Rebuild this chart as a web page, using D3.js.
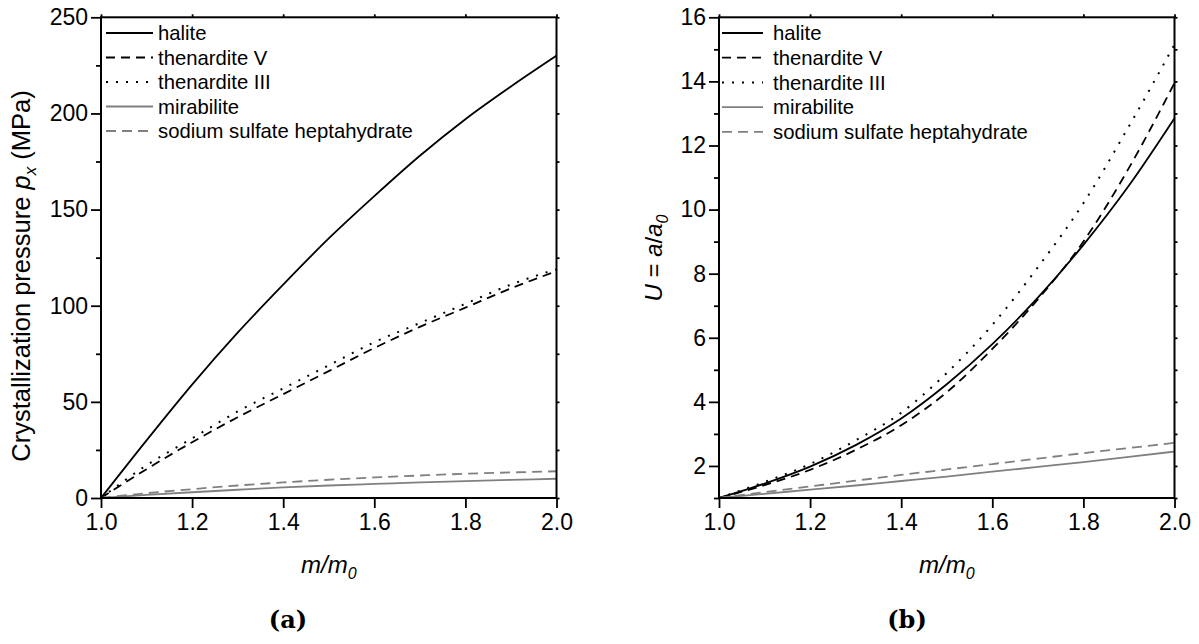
<!DOCTYPE html>
<html>
<head>
<meta charset="utf-8">
<script src="https://cdn.jsdelivr.net/npm/d3@7"></script>
<style>
  html, body { margin: 0; padding: 0; background: #fff; }
  svg { display: block; font-family: "Liberation Sans", Arial, sans-serif; }
</style>
</head>
<body>
<svg id="chart" width="1199" height="644"></svg>
<script>
// ---------------- DATA ----------------
const xValues = [1.0, 1.1, 1.2, 1.3, 1.4, 1.5, 1.6, 1.7, 1.8, 1.9, 2.0];

// (a) crystallization pressure p_x (MPa)
const pHalite      = [0, 30, 59, 86, 111, 135, 157, 178, 197, 214, 230];
const pThenarditeV = [0, 15, 29, 42, 54, 66, 78, 89, 99, 109, 118];
const pThenarditeIII = [0, 17, 31, 45, 57, 69, 81, 91, 101, 111, 119];
const pMirabilite  = [0, 1.6, 3.0, 4.3, 5.5, 6.5, 7.3, 8.1, 8.8, 9.4, 10.0];
const pHeptahydrate = [0, 2.5, 4.6, 6.5, 8.1, 9.5, 10.7, 11.7, 12.6, 13.3, 13.9];

// (b) supersaturation U = a/a0
const uHalite      = [1, 1.45, 1.98, 2.65, 3.48, 4.55, 5.8, 7.25, 8.9, 10.75, 12.85];
const uThenarditeV = [1, 1.4, 1.88, 2.5, 3.27, 4.3, 5.65, 7.2, 9.0, 11.3, 13.95];
const uThenarditeIII = [1, 1.5, 2.06, 2.8, 3.66, 4.9, 6.4, 8.2, 10.2, 12.6, 15.15];
const uMirabilite  = [1, 1.13, 1.26, 1.39, 1.53, 1.67, 1.82, 1.97, 2.12, 2.28, 2.45];
const uHeptahydrate = [1, 1.18, 1.36, 1.54, 1.72, 1.89, 2.06, 2.23, 2.4, 2.56, 2.72];

const seriesNames = ["halite", "thenardite V", "thenardite III", "mirabilite", "sodium sulfate heptahydrate"];

const xTicks = [1.0, 1.2, 1.4, 1.6, 1.8, 2.0];
const yTicksA = [0, 50, 100, 150, 200, 250];
const yMinorA = [25, 75, 125, 175, 225];
const yTicksB = [2, 4, 6, 8, 10, 12, 14, 16];
const yMinorB = [1, 3, 5, 7, 9, 11, 13, 15];

// ---------------- STYLES ----------------
const styles = [
  { color: "#000", dash: null, width: 1.8 },
  { color: "#000", dash: "9,6", width: 1.8 },
  { color: "#000", dash: "2,8", width: 2 },
  { color: "#808080", dash: null, width: 1.8 },
  { color: "#808080", dash: "10,6", width: 1.8 }
];

const svg = d3.select("#chart");

function drawPanel(cfg) {
  const g = svg.append("g");
  const x = d3.scaleLinear().domain([1, 2]).range([cfg.x0, cfg.x1]);
  const y = d3.scaleLinear().domain(cfg.yDomain).range([cfg.y1, cfg.y0]);

  const clipId = "clip" + cfg.id;
  svg.append("defs").append("clipPath").attr("id", clipId)
    .append("rect").attr("x", cfg.x0).attr("y", cfg.y0 - 2)
    .attr("width", cfg.x1 - cfg.x0 + 2).attr("height", cfg.y1 - cfg.y0 + 2);

  const line = d3.line().x(d => x(d[0])).y(d => y(d[1])).curve(d3.curveMonotoneX);
  const lines = g.append("g").attr("clip-path", `url(#${clipId})`);
  cfg.series.forEach((vals, i) => {
    const st = styles[i];
    lines.append("path")
      .datum(xValues.map((xv, j) => [xv, vals[j]]))
      .attr("d", line)
      .attr("fill", "none")
      .attr("stroke", st.color)
      .attr("stroke-width", st.width)
      .attr("stroke-dasharray", st.dash);
  });

  const axL = d3.axisLeft(y).tickValues(cfg.yTicks).tickSize(10).tickPadding(3)
    .tickFormat(d3.format("d"));
  const gL = g.append("g").attr("transform", `translate(${cfg.x0},0)`).call(axL);
  const axLm = d3.axisLeft(y).tickValues(cfg.yMinor).tickSize(5).tickFormat("");
  const gLm = g.append("g").attr("transform", `translate(${cfg.x0},0)`).call(axLm);

  const axB = d3.axisBottom(x).tickValues(xTicks).tickSize(10).tickPadding(6)
    .tickFormat(d3.format(".1f"));
  const gB = g.append("g").attr("transform", `translate(0,${cfg.y1})`).call(axB);

  const axR = d3.axisRight(y).tickValues(cfg.yTicks.concat(cfg.yMinor)).tickSize(3).tickFormat("");
  const gR = g.append("g").attr("transform", `translate(${cfg.x1},0)`).call(axR);
  const axT = d3.axisTop(x).tickValues(xTicks).tickSize(3).tickFormat("");
  const gT = g.append("g").attr("transform", `translate(0,${cfg.y0})`).call(axT);

  [gL, gLm, gB, gR, gT].forEach(ga => {
    ga.select(".domain").remove();
    ga.selectAll(".tick line").attr("stroke", "#000").attr("stroke-width", 1.8);
    ga.selectAll(".tick text").attr("font-size", 23).attr("fill", "#000")
      .attr("font-family", '"Liberation Sans", Arial, sans-serif');
  });

  g.append("rect").attr("x", cfg.x0).attr("y", cfg.y0)
    .attr("width", cfg.x1 - cfg.x0).attr("height", cfg.y1 - cfg.y0)
    .attr("fill", "none").attr("stroke", "#000").attr("stroke-width", 2);

  const lg = g.append("g");
  seriesNames.forEach((name, i) => {
    const st = styles[i];
    const yy = cfg.legY0 + i * cfg.legDy;
    lg.append("line").attr("x1", cfg.legX1).attr("x2", cfg.legX2)
      .attr("y1", yy).attr("y2", yy)
      .attr("stroke", st.color).attr("stroke-width", st.width)
      .attr("stroke-dasharray", st.dash);
    lg.append("text").attr("x", cfg.legTx).attr("y", yy)
      .attr("dy", "0.35em").attr("font-size", 20.3).attr("fill", "#000")
      .text(name);
  });

  const xt = g.append("text").attr("x", (cfg.x0 + cfg.x1) / 2).attr("y", 573)
    .attr("text-anchor", "middle").attr("font-size", 24).attr("fill", "#000");
  xt.append("tspan").attr("font-style", "italic").text("m/m");
  xt.append("tspan").attr("font-style", "italic").attr("font-size", 16).attr("dy", 6).text("0");

  g.append("text").attr("x", cfg.capX).attr("y", 628)
    .attr("text-anchor", "middle").attr("font-size", 24).attr("font-weight", "bold")
    .attr("font-family", '"DejaVu Serif", "Liberation Serif", serif')
    .attr("fill", "#000").text(cfg.caption);

  cfg.yTitle(g);
}

drawPanel({
  id: "a", x0: 101, x1: 556.5, y0: 17.3, y1: 498,
  yDomain: [0, 250], yTicks: yTicksA, yMinor: yMinorA,
  series: [pHalite, pThenarditeV, pThenarditeIII, pMirabilite, pHeptahydrate],
  legX1: 106, legX2: 153, legTx: 158, legY0: 33, legDy: 24.5,
  capX: 288, caption: "(a)",
  yTitle: g => {
    const t = g.append("text").attr("transform", "translate(30,276) rotate(-90)")
      .attr("text-anchor", "middle").attr("font-size", 25.5).attr("fill", "#000");
    t.append("tspan").text("Crystallization pressure ");
    t.append("tspan").attr("font-style", "italic").text("p");
    t.append("tspan").attr("font-style", "italic").attr("font-size", 17).attr("dy", 6).text("x");
    t.append("tspan").attr("dy", -6).text(" (MPa)");
  }
});

drawPanel({
  id: "b", x0: 719, x1: 1174.5, y0: 17.3, y1: 498,
  yDomain: [1, 16], yTicks: yTicksB, yMinor: yMinorB,
  series: [uHalite, uThenarditeV, uThenarditeIII, uMirabilite, uHeptahydrate],
  legX1: 722, legX2: 763, legTx: 773, legY0: 33, legDy: 24.7,
  capX: 907, caption: "(b)",
  yTitle: g => {
    const t = g.append("text").attr("transform", "translate(662,258) rotate(-90)")
      .attr("text-anchor", "middle").attr("font-size", 24).attr("fill", "#000");
    t.append("tspan").attr("font-style", "italic").text("U");
    t.append("tspan").text(" = ");
    t.append("tspan").attr("font-style", "italic").text("a");
    t.append("tspan").text("/");
    t.append("tspan").attr("font-style", "italic").text("a");
    t.append("tspan").attr("font-style", "italic").attr("font-size", 16).attr("dy", 6).text("0");
  }
});
</script>
</body>
</html>
